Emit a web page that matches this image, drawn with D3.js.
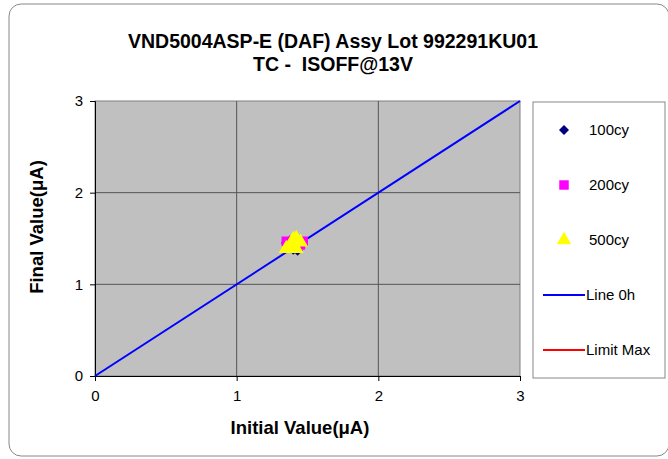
<!DOCTYPE html>
<html>
<head>
<meta charset="utf-8">
<script src="https://cdn.jsdelivr.net/npm/d3@7"></script>
<style>
body { margin: 0; background: #fff; }
text { font-family: "Liberation Sans", Arial, sans-serif; }
</style>
</head>
<body>
<script>
const w = 668;
const h = 459;

const titleLines = ["VND5004ASP-E (DAF) Assy Lot 992291KU01", "TC -  ISOFF@13V"];
const xTicks = [0, 1, 2, 3];
const yTicks = [0, 1, 2, 3];

// initial / final values per stress step
const init100 = [1.35, 1.40, 1.45, 1.38, 1.43];
const final100 = [1.45, 1.38, 1.42, 1.47, 1.37];
const init200 = [1.35, 1.47, 1.42, 1.38, 1.45, 1.40];
const final200 = [1.47, 1.47, 1.46, 1.40, 1.43, 1.48];
const init500 = [1.35, 1.39, 1.42, 1.45, 1.38, 1.42, 1.40];
const final500 = [1.39, 1.46, 1.50, 1.46, 1.41, 1.39, 1.49];
const line0h = [[0, 0], [3, 3]];

const svg = d3.select("body").append("svg")
    .attr("width", w)
    .attr("height", h);

// outer frame
svg.append("rect")
    .attr("x", 9).attr("y", 4)
    .attr("width", 660).attr("height", 452)
    .attr("rx", 12)
    .attr("fill", "#fff")
    .attr("stroke", "#888")
    .attr("stroke-width", 1);

const pLeft = 95, pRight = 520, pTop = 101, pBottom = 376;

const xScale = d3.scaleLinear().domain([0, 3]).range([pLeft, pRight]);
const yScale = d3.scaleLinear().domain([0, 3]).range([pBottom, pTop]);

svg.append("rect")
    .attr("x", pLeft).attr("y", pTop)
    .attr("width", pRight - pLeft).attr("height", pBottom - pTop)
    .attr("fill", "#c0c0c0")
    .attr("stroke", "#808080");

// gridlines
svg.append("g").selectAll("line").data(xTicks.slice(1, -1)).join("line")
    .attr("x1", d => xScale(d)).attr("x2", d => xScale(d))
    .attr("y1", pTop).attr("y2", pBottom)
    .attr("stroke", "#555").attr("stroke-width", 1);
svg.append("g").selectAll("line").data(yTicks.slice(1, -1)).join("line")
    .attr("y1", d => yScale(d)).attr("y2", d => yScale(d))
    .attr("x1", pLeft).attr("x2", pRight)
    .attr("stroke", "#555").attr("stroke-width", 1);

const xAxis = d3.axisBottom(xScale).tickValues(xTicks).tickSize(5).tickFormat(d3.format("d"));
const yAxis = d3.axisLeft(yScale).tickValues(yTicks).tickSize(5).tickFormat(d3.format("d"));

const gx = svg.append("g")
    .attr("transform", "translate(0," + pBottom + ")")
    .call(xAxis);
const gy = svg.append("g")
    .attr("transform", "translate(" + pLeft + ",0)")
    .call(yAxis);
[gx, gy].forEach(g => {
    g.select(".domain").attr("stroke", "#000");
    g.selectAll(".tick line").attr("stroke", "#000");
    g.selectAll("text").attr("font-size", 15).attr("fill", "#000")
        .attr("font-family", "Liberation Sans, Arial, sans-serif");
});
gx.selectAll("text").attr("dy", "1.15em");
gy.selectAll("text").attr("x", -12);

// diagonal line 0h
svg.append("path")
    .datum(line0h)
    .attr("d", d3.line().x(d => xScale(d[0])).y(d => yScale(d[1])))
    .attr("stroke", "#0000ff").attr("stroke-width", 2).attr("fill", "none");

// a diamond is a square turned by 45 degrees
function series(xs, ys, shape, size, color, rot) {
    svg.append("g").selectAll("path").data(xs).join("path")
        .attr("transform", (d, i) => "translate(" + xScale(d) + "," + yScale(ys[i]) + ") rotate(" + rot + ")")
        .attr("d", d3.symbol().type(shape).size(size))
        .attr("fill", color);
}
series(init100, final100, d3.symbolSquare, 55, "#000080", 45);
series(init200, final200, d3.symbolSquare, 90, "#ff00ff", 0);
series(init500, final500, d3.symbolTriangle, 100, "#ffff00", 0);

// titles
svg.append("text")
    .attr("text-anchor", "middle")
    .attr("font-size", 19.5).attr("font-weight", "bold")
    .attr("xml:space", "preserve")
    .style("white-space", "pre")
    .selectAll("tspan").data(titleLines).join("tspan")
    .attr("x", 333)
    .attr("y", (d, i) => 48 + i * 23)
    .text(d => d);

svg.append("text")
    .attr("x", 300).attr("y", 434)
    .attr("text-anchor", "middle")
    .attr("font-size", 18.5).attr("font-weight", "bold")
    .text("Initial Value(μA)");

svg.append("text")
    .attr("transform", "translate(43,227) rotate(-90)")
    .attr("text-anchor", "middle")
    .attr("font-size", 18.5).attr("font-weight", "bold")
    .text("Final Value(μA)");

// legend
svg.append("rect")
    .attr("x", 533).attr("y", 102)
    .attr("width", 132).attr("height", 276)
    .attr("fill", "#fff").attr("stroke", "#888");

const legendItems = [
    { label: "100cy", type: "sym", shape: d3.symbolSquare, size: 50, rot: 45, color: "#000080" },
    { label: "200cy", type: "sym", shape: d3.symbolSquare, size: 90, rot: 0, color: "#ff00ff" },
    { label: "500cy", type: "sym", shape: d3.symbolTriangle, size: 90, rot: 0, color: "#ffff00" },
    { label: "Line 0h", type: "line", color: "#0000ff" },
    { label: "Limit Max", type: "line", color: "#ff0000" }
];
const lg = svg.append("g").selectAll("g").data(legendItems).join("g")
    .attr("transform", (d, i) => "translate(0," + (130 + i * 55) + ")");
lg.filter(d => d.type === "sym").append("path")
    .attr("transform", d => "translate(564,0) rotate(" + d.rot + ")")
    .attr("d", d => d3.symbol().type(d.shape).size(d.size)())
    .attr("fill", d => d.color);
lg.filter(d => d.type === "line").append("line")
    .attr("x1", 543).attr("x2", 585)
    .attr("stroke", d => d.color).attr("stroke-width", 2);
lg.append("text")
    .attr("x", d => d.type === "line" ? 586 : 589)
    .attr("y", 5)
    .attr("font-size", 15)
    .text(d => d.label);
</script>
</body>
</html>
